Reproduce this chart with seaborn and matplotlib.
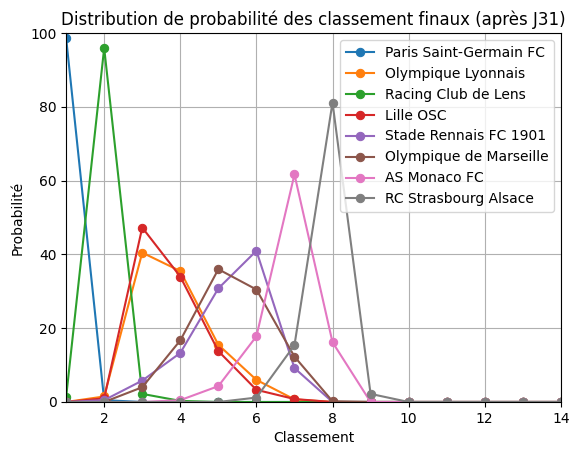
import matplotlib
matplotlib.use("Agg")
import matplotlib.pyplot as plt
import numpy as np
import seaborn as sns

ranks = list(range(1, 15))
teams = ["Paris Saint-Germain FC", "Olympique Lyonnais", "Racing Club de Lens", "Lille OSC",
         "Stade Rennais FC 1901", "Olympique de Marseille", "AS Monaco FC", "RC Strasbourg Alsace"]
psg = [98.7, 0.5, 0, 0, 0, 0, 0, 0, 0, 0, 0, 0, 0, 0]
lyon = [0, 1.5, 40.5, 35.5, 15.5, 6.0, 0.7, 0, 0, 0, 0, 0, 0, 0]
lens = [1.3, 96.0, 2.2, 0.3, 0, 0, 0, 0, 0, 0, 0, 0, 0, 0]
lille = [0, 1.0, 47.3, 34.0, 13.8, 3.3, 0.8, 0, 0, 0, 0, 0, 0, 0]
rennes = [0, 0.5, 5.8, 13.3, 30.8, 41.0, 9.2, 0, 0, 0, 0, 0, 0, 0]
marseille = [0, 0, 4.0, 16.7, 36.0, 30.5, 12.3, 0.2, 0, 0, 0, 0, 0, 0]
monaco = [0, 0, 0, 0.5, 4.3, 17.8, 61.7, 16.2, 0, 0, 0, 0, 0, 0]
strasbourg = [0, 0, 0, 0, 0, 1.2, 15.4, 81.2, 2.2, 0, 0, 0, 0, 0]
series = [psg, lyon, lens, lille, rennes, marseille, monaco, strasbourg]

fig, ax = plt.subplots(figsize=(5.8, 4.55), dpi=100)
colors = sns.color_palette("tab10", 8)
for name, vals, c in zip(teams, series, colors):
    sns.lineplot(x=ranks, y=vals, marker="o", markeredgecolor=c, color=c, label=name, ax=ax)
ax.set_xlim(1, 14)
ax.set_ylim(0, 100)
ax.grid(True)
ax.set_title("Distribution de probabilité des classement finaux (après J31)")
ax.set_xlabel("Classement")
ax.set_ylabel("Probabilité")
ax.legend(loc="upper right")
fig.subplots_adjust(left=0.114, right=0.967, top=0.927, bottom=0.1165)
fig.savefig("out.png")
